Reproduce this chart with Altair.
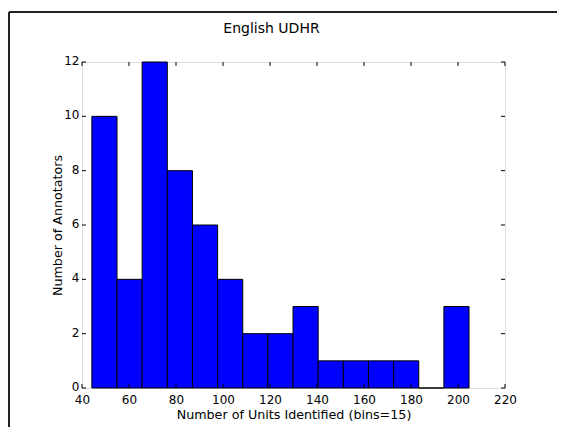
import altair as alt
import pandas as pd

# Histogram data
bin_edges = [44.2, 54.9, 65.6, 76.3, 87.0, 97.7, 108.4, 119.1, 129.8,
             140.5, 151.2, 161.9, 172.6, 183.3, 194.0, 204.7]
counts = [10, 4, 12, 8, 6, 4, 2, 2, 3, 1, 1, 1, 1, 0, 3]
x_ticks = [40, 60, 80, 100, 120, 140, 160, 180, 200, 220]
y_ticks = [0, 2, 4, 6, 8, 10, 12]

title_text = "English UDHR"
x_title = "Number of Units Identified (bins=15)"
y_title = "Number of Annotators"

W, H = 423, 326
FONT = "DejaVu Sans"

bars_df = pd.DataFrame({
    "start": bin_edges[:-1],
    "end": bin_edges[1:],
    "count": counts,
    "base": [0] * len(counts),
})
xt_df = pd.DataFrame({"v": x_ticks})
yt_df = pd.DataFrame({"v": y_ticks})

xs = alt.Scale(domain=[40, 220], nice=False, zero=False, padding=0)
ys = alt.Scale(domain=[0, 12], nice=False, padding=0)

bars = alt.Chart(bars_df).mark_bar(
    color="#0000FF", stroke="black", strokeWidth=1, opacity=1
).encode(
    x=alt.X("start:Q", scale=xs,
            axis=alt.Axis(values=x_ticks, ticks=False, domain=False, grid=False,
                          labelFont=FONT, labelFontSize=12, labelColor="black",
                          labelPadding=6, labelFlush=False,
                          title=x_title, titleFont=FONT, titleFontSize=12.7,
                          titleFontWeight="normal", titleColor="black",
                          titlePadding=3)),
    x2="end:Q",
    y=alt.Y("count:Q", scale=ys,
            axis=alt.Axis(values=y_ticks, ticks=False, domain=False, grid=False,
                          labelFont=FONT, labelFontSize=12, labelColor="black",
                          labelPadding=3, labelFlush=False, labelOffset=-1.5,
                          title=y_title, titleFont=FONT, titleFontSize=12.7,
                          titleFontWeight="normal", titleColor="black",
                          titleX=-25, titleY=H / 2, titleAngle=-90,
                          titleAlign="center", titleBaseline="middle")),
    y2="base:Q",
)

xt_bottom = alt.Chart(xt_df).mark_rule(color="black", strokeWidth=1).encode(
    x=alt.X("v:Q", scale=xs), y=alt.value(H), y2=alt.value(H - 4))
xt_top = alt.Chart(xt_df).mark_rule(color="black", strokeWidth=1).encode(
    x=alt.X("v:Q", scale=xs), y=alt.value(0), y2=alt.value(4))
yt_left = alt.Chart(yt_df).mark_rule(color="black", strokeWidth=1).encode(
    y=alt.Y("v:Q", scale=ys), x=alt.value(0), x2=alt.value(4))
yt_right = alt.Chart(yt_df).mark_rule(color="black", strokeWidth=1).encode(
    y=alt.Y("v:Q", scale=ys), x=alt.value(W), x2=alt.value(W - 4))

# figure border (top and left edges)
frame_top = alt.Chart(pd.DataFrame({"a": [0]})).mark_rule(
    color="#222", strokeWidth=2, clip=False
).encode(x=alt.value(-73), x2=alt.value(600), y=alt.value(-50))
frame_left = alt.Chart(pd.DataFrame({"a": [0]})).mark_rule(
    color="#222", strokeWidth=2, clip=False
).encode(x=alt.value(-73), y=alt.value(-50), y2=alt.value(500))

title = alt.Chart(pd.DataFrame({"t": [title_text]})).mark_text(
    font=FONT, fontSize=14, color="black", align="center", baseline="alphabetic"
).encode(x=alt.value(W / 2 - 22), y=alt.value(-29), text="t:N")

chart = alt.layer(
    bars, xt_bottom, xt_top, yt_left, yt_right, frame_top, frame_left, title
).properties(
    width=W, height=H,
    autosize=alt.AutoSizeParams(type="none"),
    padding={"left": 74, "top": 54, "right": 52, "bottom": 39},
).configure_view(
    stroke="#333", strokeWidth=1
).configure(background="white")

chart.save("out.html", embed_options={"renderer": "svg", "actions": False})
